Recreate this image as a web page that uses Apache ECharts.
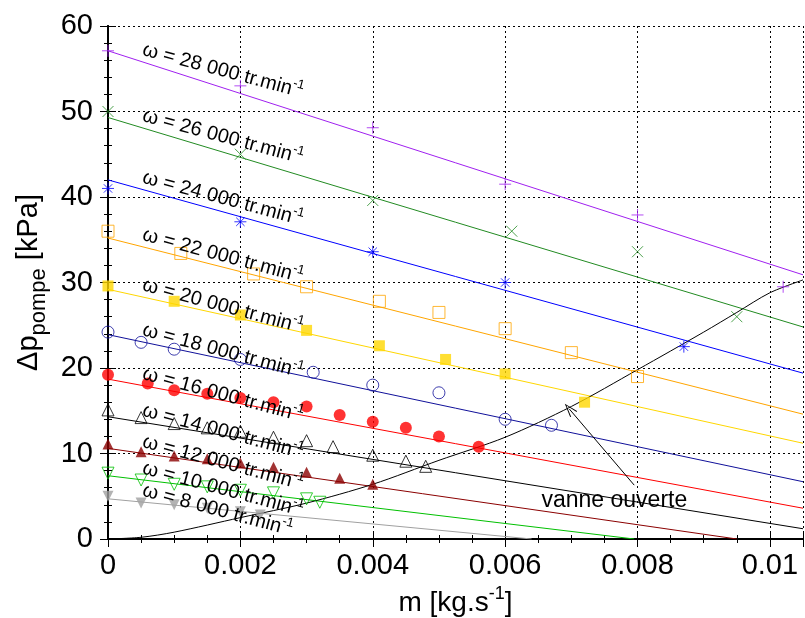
<!DOCTYPE html>
<html><head><meta charset="utf-8">
<script src="https://cdn.jsdelivr.net/npm/echarts@6/dist/echarts.min.js"></script>
<style>html,body{margin:0;padding:0;background:#fff}#c{width:805px;height:618px}</style>
</head><body><div id="c"></div>
<script>
// ---------- data ----------
const speedLabels = ['28 000','26 000','24 000','22 000','20 000','18 000','16 000','14 000','12 000','10 000','8 000'];
const xTicks = [0, 0.002, 0.004, 0.006, 0.008, 0.01];
const yTicks = [0, 10, 20, 30, 40, 50, 60];

// measured points [m, dp]
const pts28000 = [[0,57.1],[0.002,53.0],[0.004,48.1],[0.006,41.5],[0.008,37.9],[0.0102,29.5]];
const pts26000 = [[0,50.0],[0.002,45.0],[0.004,39.6],[0.0061,36.0],[0.008,33.6],[0.0095,26.0]];
const pts24000 = [[0,41.0],[0.002,37.1],[0.004,33.6],[0.006,30.0],[0.0087,22.5]];
const pts22000 = [[0,36.0],[0.0011,33.4],[0.0022,31.0],[0.003,29.5],[0.0041,27.8],[0.005,26.5],[0.006,24.6],[0.007,21.8],[0.008,19.0]];
const pts20000 = [[0,29.6],[0.001,27.8],[0.002,26.2],[0.003,24.4],[0.0041,22.6],[0.0051,21.0],[0.006,19.3],[0.0072,16.0]];
const pts18000 = [[0,24.2],[0.0005,23.0],[0.001,22.2],[0.002,21.0],[0.0031,19.5],[0.004,18.0],[0.005,17.1],[0.006,14.0],[0.0067,13.3]];
const pts16000 = [[0,19.2],[0.0006,18.2],[0.001,17.4],[0.0015,17.0],[0.002,16.5],[0.0025,16.0],[0.003,15.5],[0.0035,14.5],[0.004,13.7],[0.0045,13.0],[0.005,12.0],[0.0056,10.8]];
const pts14000 = [[0,15.1],[0.0005,14.2],[0.001,13.5],[0.0015,13.0],[0.002,12.6],[0.0025,11.9],[0.003,11.5],[0.0034,10.8],[0.004,9.8],[0.0045,9.1],[0.0048,8.5]];
const pts12000 = [[0,11.1],[0.0005,10.2],[0.001,9.7],[0.0015,9.4],[0.002,8.9],[0.0025,8.4],[0.003,7.8],[0.0035,7.1],[0.004,6.4]];
const pts10000 = [[0,7.7],[0.0005,6.9],[0.001,6.4],[0.0015,6.1],[0.002,5.7],[0.0025,5.4],[0.003,4.7],[0.0032,4.3]];
const pts8000  = [[0,5.0],[0.0005,4.2],[0.001,4.0],[0.0015,3.6],[0.002,3.2],[0.0023,2.8]];

// fitted straight lines (two end points each)
const fit28000 = [[0,57.1],[0.0105,30.9]];
const fit26000 = [[0,49.3],[0.0105,24.8]];
const fit24000 = [[0,42.0],[0.0105,19.4]];
const fit22000 = [[0,35.2],[0.0105,14.6]];
const fit20000 = [[0,29.2],[0.0105,11.2]];
const fit18000 = [[0,23.9],[0.0105,6.7]];
const fit16000 = [[0,18.7],[0.0105,3.6]];
const fit14000 = [[0,14.3],[0.0105,1.2]];
const fit12000 = [[0,10.6],[0.0095,0]];
const fit10000 = [[0,7.4],[0.00795,0]];
const fit8000  = [[0,4.7],[0.0064,0]];

// open-valve curve
const vanneCurve = [[0,0],[0.0005,0.2],[0.001,0.8],[0.002,2.5],[0.003,4.2],[0.004,6.4],[0.005,9.2],[0.006,11.9],[0.007,15.5],[0.008,19.8],[0.009,24.2],[0.0095,26.5],[0.01,28.8],[0.0105,30.3]];
const vanneText = 'vanne ouverte';
const vanneTextAt = [0.00765, 4.5];
const vanneArrow = [[0.00795, 6.3],[0.00697, 15.2]];

// ---------- styles ----------
const allPts = [pts28000,pts26000,pts24000,pts22000,pts20000,pts18000,pts16000,pts14000,pts12000,pts10000,pts8000];
const allFits = [fit28000,fit26000,fit24000,fit22000,fit20000,fit18000,fit16000,fit14000,fit12000,fit10000,fit8000];
const colors = ['#a020f0','#228b22','#0000ff','#ffa500','#ffd700','#10109a','#ff0000','#000000','#8b0000','#00c000','#a0a0a0'];
const P_PLUS = 'path://M5,0L5,10M0,5L10,5';
const P_X = 'path://M0,0L10,10M10,0L0,10';
const P_STAR = 'path://M5,0L5,10M0,5L10,5M1.5,1.5L8.5,8.5M8.5,1.5L1.5,8.5';
const markers = [
  {symbol:P_PLUS, size:12, open:true},
  {symbol:P_X, size:11, open:true},
  {symbol:P_STAR, size:12, open:true},
  {symbol:'rect', size:12, open:true},
  {symbol:'rect', size:11, open:false},
  {symbol:'circle', size:12, open:true},
  {symbol:'circle', size:12, open:false},
  {symbol:'triangle', size:12, open:true},
  {symbol:'triangle', size:11, open:false},
  {symbol:'triangle', size:12, open:true, rot:180},
  {symbol:'triangle', size:11, open:false, rot:180}
];
const FONT = 'Liberation Sans, Arial, sans-serif';
const labelX = 0.00048;

function lineAt(f, x){ const [a,b]=f; return a[1] + (b[1]-a[1])*(x-a[0])/(b[0]-a[0]); }
function isMult(v, step){ const r = v/step; return Math.abs(r-Math.round(r))<1e-6; }

const series = [];
allFits.forEach((f,i)=>{
  series.push({type:'line', data:f, showSymbol:false, silent:true, z:2,
    lineStyle:{color:colors[i], width:1}});
});
series.push({type:'line', data:vanneCurve, smooth:0.3, showSymbol:false, silent:true, z:2,
  lineStyle:{color:'#000', width:1},
  markLine:{silent:true, symbol:['none','path://M5,0L10,14L9,14.5L5,2.6L1,14.5L0,14Z'], symbolSize:[9,14],
    lineStyle:{color:'#000', width:1, type:'solid'}, label:{show:false},
    data:[[{coord:vanneArrow[0]},{coord:vanneArrow[1]}]]}
});
allPts.forEach((p,i)=>{
  const m = markers[i];
  series.push({type:'scatter', data:p, symbol:m.symbol, symbolSize:m.size, symbolRotate:m.rot||0, z:5, silent:true,
    itemStyle: m.open ? {color:'none', borderColor:colors[i], borderWidth:1} : {color:colors[i]}});
});
// line labels
series.push({type:'scatter', silent:true, z:6, symbolSize:0.01, itemStyle:{color:'#fff', opacity:1},
  data: allFits.map((f,i)=>({value:[labelX, lineAt(f,labelX)], name:speedLabels[i]})),
  label:{show:true, position:'inside', align:'left', verticalAlign:'middle', rotate:-15, offset:[0,-12], opacity:1,
    formatter: p => '{a|\u03c9 = '+p.name+' tr.min}{s|-1}',
    rich:{a:{fontFamily:FONT, fontSize:20, color:'#000', lineHeight:26, opacity:1},
          s:{fontFamily:FONT, fontSize:13, color:'#000', verticalAlign:'top', lineHeight:12, opacity:1}}}
});
series.push({type:'scatter', silent:true, z:6, symbolSize:0.01, itemStyle:{color:'#fff', opacity:1},
  data:[{value:vanneTextAt, name:vanneText}],
  label:{show:true, position:'inside', formatter:'{b}', fontFamily:FONT, fontSize:23, color:'#000', opacity:1}
});

const tickFmt = v => isMult(v,0.002) ? String(+v.toFixed(4)) : '';
const baseX = {type:'value', min:0, max:0.0105, gridIndex:0};
const baseY = {type:'value', min:0, max:60, gridIndex:0};
const axisLineStyle = {show:true, lineStyle:{color:'#000', width:2}};
const noLine = {show:false};

const option = {
  animation:false,
  backgroundColor:'#fff',
  grid:{left:108, right:2, top:26, bottom:79, containLabel:false, outerBoundsMode:'none'},
  xAxis:[
    Object.assign({}, baseX, {position:'bottom', interval:0.002,
      axisLine:axisLineStyle,
      axisTick:{show:true, inside:true, length:8, lineStyle:{color:'#000', width:1}},
      axisLabel:{show:true, formatter:tickFmt, fontFamily:FONT, fontSize:29, color:'#000', margin:12},
      splitLine:{show:true, lineStyle:{color:'#000', width:1, type:[2,3]}},
      name:'m [kg.s{s|-1}]', nameLocation:'middle', nameGap:46,
      nameTextStyle:{fontFamily:FONT, fontSize:28, color:'#000', lineHeight:36,
        rich:{s:{fontFamily:FONT, fontSize:18, color:'#000', verticalAlign:'top', lineHeight:16}}}
    }),
    Object.assign({}, baseX, {position:'bottom', interval:0.0005, axisLine:noLine,
      axisTick:{show:true, inside:true, length:4, lineStyle:{color:'#000', width:1}},
      axisLabel:{show:false}, splitLine:{show:false}}),
    Object.assign({}, baseX, {position:'top', interval:0.002, axisLine:axisLineStyle,
      axisTick:{show:true, inside:true, length:8, lineStyle:{color:'#000', width:1}},
      axisLabel:{show:false}, splitLine:{show:false}}),
    Object.assign({}, baseX, {position:'top', interval:0.0005, axisLine:noLine,
      axisTick:{show:true, inside:true, length:4, lineStyle:{color:'#000', width:1}},
      axisLabel:{show:false}, splitLine:{show:false}})
  ],
  yAxis:[
    Object.assign({}, baseY, {position:'left', interval:10,
      axisLine:axisLineStyle,
      axisTick:{show:true, inside:true, length:8, lineStyle:{color:'#000', width:1}},
      axisLabel:{show:true, fontFamily:FONT, fontSize:29, color:'#000', margin:15},
      splitLine:{show:true, lineStyle:{color:'#000', width:1, type:[2,3]}},
      name:'{a|\u0394p}{b|pompe}{a| [kPa]}', nameLocation:'middle', nameGap:57,
      nameTextStyle:{fontFamily:FONT, fontSize:29, color:'#000',
        rich:{a:{fontFamily:FONT, fontSize:29, color:'#000', lineHeight:42},
              b:{fontFamily:FONT, fontSize:22, color:'#000', verticalAlign:'bottom', lineHeight:21}}}
    }),
    Object.assign({}, baseY, {position:'left', interval:2, axisLine:noLine,
      axisTick:{show:true, inside:true, length:4, lineStyle:{color:'#000', width:1}},
      axisLabel:{show:false}, splitLine:{show:false}}),
    Object.assign({}, baseY, {position:'right', interval:10, axisLine:axisLineStyle,
      axisTick:{show:true, inside:true, length:8, lineStyle:{color:'#000', width:1}},
      axisLabel:{show:false}, splitLine:{show:false}}),
    Object.assign({}, baseY, {position:'right', interval:2, axisLine:noLine,
      axisTick:{show:true, inside:true, length:4, lineStyle:{color:'#000', width:1}},
      axisLabel:{show:false}, splitLine:{show:false}})
  ],
  series: series
};
const chart = echarts.init(document.getElementById('c'), null, {renderer:'canvas'});
chart.setOption(option);
</script></body></html>
